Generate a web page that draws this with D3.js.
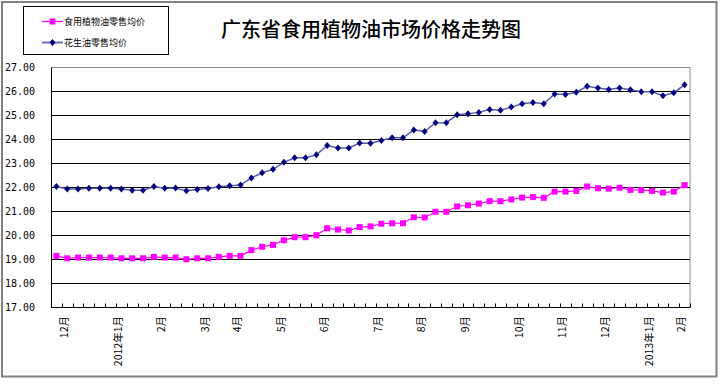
<!DOCTYPE html>
<html>
<head>
<meta charset="utf-8">
<script src="https://cdn.jsdelivr.net/npm/d3@7"></script>
<style>
  body { margin: 0; background: #fff; }
  svg { display: block; }
</style>
</head>
<body>
<div id="chart"></div>
<script>
// weekly category labels (only first week of a month is labelled)
var weekLabels = ["", "12月", "", "", "", "", "2012年1月", "", "", "",
  "2月", "", "", "", "3月", "", "", "4月", "", "",
  "", "5月", "", "", "", "6月", "", "", "", "",
  "7月", "", "", "", "8月", "", "", "", "9月", "",
  "", "", "", "10月", "", "", "", "11月", "", "",
  "", "12月", "", "", "", "2013年1月", "", "", "2月"];

var seriesNames = ["食用植物油零售均价", "花生油零售均价"];

// 食用植物油零售均价
var edibleOil = [19.15, 19.05, 19.08, 19.08, 19.08, 19.08, 19.05, 19.05, 19.05, 19.11,
  19.08, 19.08, 19.01, 19.05, 19.05, 19.11, 19.15, 19.15, 19.39, 19.53,
  19.61, 19.80, 19.93, 19.93, 20.01, 20.30, 20.25, 20.21, 20.35, 20.38,
  20.49, 20.51, 20.51, 20.76, 20.75, 20.99, 20.99, 21.21, 21.26, 21.33,
  21.43, 21.43, 21.50, 21.58, 21.60, 21.57, 21.83, 21.83, 21.86, 22.04,
  21.97, 21.95, 21.99, 21.90, 21.89, 21.86, 21.79, 21.83, 22.10];

// 花生油零售均价
var peanutOil = [22.04, 21.94, 21.94, 21.97, 21.97, 21.97, 21.94, 21.89, 21.89, 22.04,
  21.97, 21.98, 21.86, 21.92, 21.96, 22.03, 22.07, 22.10, 22.40, 22.61,
  22.76, 23.05, 23.24, 23.24, 23.36, 23.75, 23.65, 23.65, 23.85, 23.84,
  23.96, 24.07, 24.07, 24.40, 24.33, 24.70, 24.70, 25.03, 25.07, 25.13,
  25.25, 25.22, 25.35, 25.49, 25.54, 25.49, 25.90, 25.88, 25.97, 26.22,
  26.15, 26.08, 26.15, 26.07, 25.99, 25.99, 25.82, 25.95, 26.28];

var yTicks = [17, 18, 19, 20, 21, 22, 23, 24, 25, 26, 27];

var W = 720, H = 385;
var plot = {left: 51, right: 690, top: 67.5, bottom: 307.5};

var svg = d3.select("#chart").append("svg")
    .attr("width", W)
    .attr("height", H);

// outer frame
svg.append("rect")
    .attr("x", 2).attr("y", 2)
    .attr("width", 714.5).attr("height", 374.5)
    .attr("fill", "#fff")
    .attr("stroke", "#808080")
    .attr("stroke-width", 2);

var x = d3.scaleBand()
    .domain(d3.range(weekLabels.length))
    .range([plot.left, plot.right]);

var y = d3.scaleLinear()
    .domain([17, 27])
    .range([plot.bottom, plot.top]);

// plot area border (gray top/right)
svg.append("rect")
    .attr("x", plot.left + 0.5).attr("y", plot.top)
    .attr("width", plot.right - plot.left - 0.5)
    .attr("height", plot.bottom - plot.top)
    .attr("fill", "none")
    .attr("stroke", "#8c8c8c")
    .attr("stroke-width", 1);

// gridlines
svg.append("g")
  .selectAll("line")
  .data(yTicks.filter(function(d) { return d > 17 && d < 27; }))
  .enter().append("line")
    .attr("x1", plot.left).attr("x2", plot.right)
    .attr("y1", function(d) { return y(d); })
    .attr("y2", function(d) { return y(d); })
    .attr("stroke", "#000")
    .attr("stroke-width", 1);

// y axis labels
svg.append("g")
  .selectAll("text")
  .data(yTicks)
  .enter().append("text")
    .attr("x", 35)
    .attr("y", function(d) { return y(d); })
    .attr("dy", "0.35em")
    .attr("text-anchor", "end")
    .style("font-family", "'DejaVu Sans Mono', monospace")
    .style("font-size", "10px")
    .attr("fill", "#000")
    .text(function(d) { return d3.format(".2f")(d); });

// axes lines
svg.append("line")
    .attr("x1", plot.left + 0.5).attr("x2", plot.left + 0.5)
    .attr("y1", plot.top).attr("y2", plot.bottom)
    .attr("stroke", "#000");
svg.append("line")
    .attr("x1", plot.left).attr("x2", plot.right)
    .attr("y1", plot.bottom).attr("y2", plot.bottom)
    .attr("stroke", "#000");

// x ticks (inside, at category boundaries)
svg.append("g")
  .selectAll("line")
  .data(d3.range(1, weekLabels.length + 1))
  .enter().append("line")
    .attr("x1", function(i) { return Math.round(x(i - 1) + x.bandwidth()) + 0.5; })
    .attr("x2", function(i) { return Math.round(x(i - 1) + x.bandwidth()) + 0.5; })
    .attr("y1", plot.bottom)
    .attr("y2", plot.bottom - 4)
    .attr("stroke", "#000");

// x labels, rotated
svg.append("g")
  .selectAll("text")
  .data(weekLabels.map(function(d, i) { return {label: d, i: i}; })
    .filter(function(d) { return d.label !== ""; }))
  .enter().append("text")
    .attr("transform", function(d) {
      var cx = x(d.i) + x.bandwidth() / 2 - 3;
      return "translate(" + cx + ",316) rotate(-90)";
    })
    .attr("dy", "0.35em")
    .attr("text-anchor", "end")
    .style("font-family", "'Noto Sans CJK SC', sans-serif")
    .style("font-size", "10.5px")
    .attr("fill", "#000")
    .text(function(d) { return d.label; });

var line = d3.line()
    .x(function(d, i) { return x(i) + x.bandwidth() / 2; })
    .y(function(d) { return y(d); });

var diamond = "M0,-3.5L3,0L0,3.5L-3,0Z";

// peanut oil series
svg.append("path")
    .datum(peanutOil)
    .attr("d", line)
    .attr("fill", "none")
    .attr("stroke", "#5a5ab4")
    .attr("stroke-width", 1.5);
svg.append("g")
  .selectAll("path")
  .data(peanutOil)
  .enter().append("path")
    .attr("d", diamond)
    .attr("transform", function(d, i) {
      return "translate(" + (x(i) + x.bandwidth() / 2) + "," + y(d) + ")";
    })
    .attr("fill", "#000080");

// edible oil series
svg.append("path")
    .datum(edibleOil)
    .attr("d", line)
    .attr("fill", "none")
    .attr("stroke", "#ff00ff")
    .attr("stroke-width", 1.2);
svg.append("g")
  .selectAll("rect")
  .data(edibleOil)
  .enter().append("rect")
    .attr("x", function(d, i) { return x(i) + x.bandwidth() / 2 - 3; })
    .attr("y", function(d) { return y(d) - 3; })
    .attr("width", 6)
    .attr("height", 6)
    .attr("fill", "#ff00ff");

// title
svg.append("text")
    .attr("x", 371)
    .attr("y", 37)
    .attr("text-anchor", "middle")
    .style("font-family", "'Noto Sans CJK SC', sans-serif")
    .style("font-size", "20px")
    .style("font-weight", "500")
    .attr("fill", "#000")
    .text("广东省食用植物油市场价格走势图");

// legend
var legend = svg.append("g");
legend.append("rect")
    .attr("x", 23.5).attr("y", 6.5)
    .attr("width", 145).attr("height", 48)
    .attr("fill", "#fff")
    .attr("stroke", "#000");

var legendY = [21.5, 42.5];
var legendColors = ["#ff00ff", "#6a6abf"];
seriesNames.forEach(function(name, k) {
  legend.append("line")
      .attr("x1", 42).attr("x2", 63)
      .attr("y1", legendY[k]).attr("y2", legendY[k])
      .attr("stroke", legendColors[k])
      .attr("stroke-width", k === 0 ? 1.2 : 2);
  if (k === 0) {
    legend.append("rect")
        .attr("x", 49.5).attr("y", legendY[k] - 3)
        .attr("width", 6).attr("height", 6)
        .attr("fill", "#ff00ff");
  } else {
    legend.append("path")
        .attr("d", diamond)
        .attr("transform", "translate(52.5," + legendY[k] + ")")
        .attr("fill", "#000080");
  }
  legend.append("text")
      .attr("x", 64)
      .attr("y", legendY[k])
      .attr("dy", "0.35em")
      .style("font-family", "'Noto Sans CJK SC', sans-serif")
      .style("font-size", "9px")
      .attr("fill", "#000")
      .text(name);
});
</script>
</body>
</html>
